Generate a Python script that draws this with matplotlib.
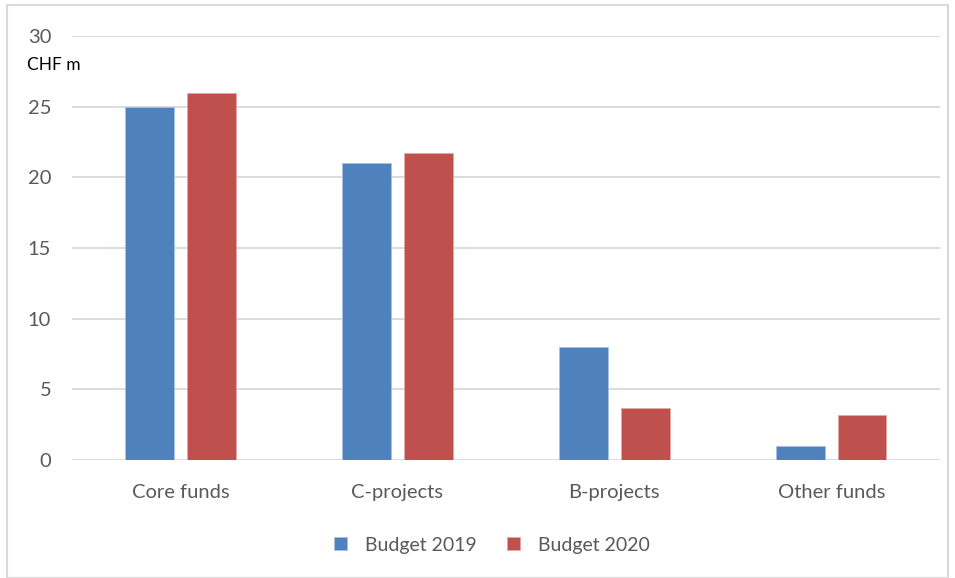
import matplotlib.pyplot as plt
import numpy as np
from matplotlib.patches import Rectangle

categories = ['Core funds', 'C-projects', 'B-projects', 'Other funds']
budget_2019 = [25.0, 21.0, 8.0, 1.0]
budget_2020 = [26.0, 21.7, 3.7, 3.2]
series_names = ['Budget 2019', 'Budget 2020']
yticks = [0, 5, 10, 15, 20, 25, 30]

plt.rcParams['font.family'] = ['Lato', 'DejaVu Sans']

fig = plt.figure(figsize=(9.55, 5.78), dpi=100)
ax = fig.add_axes([0.0754, 0.2042, 0.9086, 0.7335])

x = np.arange(len(categories))
w = 0.225
off = 0.142
b1 = ax.bar(x - off, budget_2019, w, color='#4F81BD', edgecolor='#A9C1E0', linewidth=0.6,
            label=series_names[0], zorder=3)
b2 = ax.bar(x + off, budget_2020, w, color='#C0504D', edgecolor='#E3A9A8', linewidth=0.6,
            label=series_names[1], zorder=3)

ax.set_xlim(-0.5, len(categories) - 0.5)
ax.set_ylim(0, 30)
ax.set_yticks(yticks)
ax.set_xticks(x)
ax.set_xticklabels(categories)
ax.grid(axis='y', color='#d9d9d9', linewidth=1.3, zorder=0)
ax.tick_params(axis='both', length=0, labelsize=14.5, colors='#595959')
ax.tick_params(axis='y', pad=15)
ax.tick_params(axis='x', pad=17)
for s in ax.spines.values():
    s.set_visible(False)

fig.text(27 / 955, 1 - 65 / 578, 'CHF m', fontsize=12.5, color='black', va='center', ha='left')

fig.legend(handles=[b1, b2], labels=series_names, loc='center', bbox_to_anchor=(492 / 955, 1 - 545 / 578),
           ncol=2, frameon=False, fontsize=14, handlelength=0.65, handleheight=0.65,
           columnspacing=1.6, handletextpad=0.9, labelcolor='#595959')

fig.patches.append(Rectangle((7 / 955, 0.0), 941 / 955, 1 - 5 / 578, transform=fig.transFigure,
                             fill=False, edgecolor='#d9d9d9', linewidth=1.5))

fig.savefig('out.png', dpi=100)
